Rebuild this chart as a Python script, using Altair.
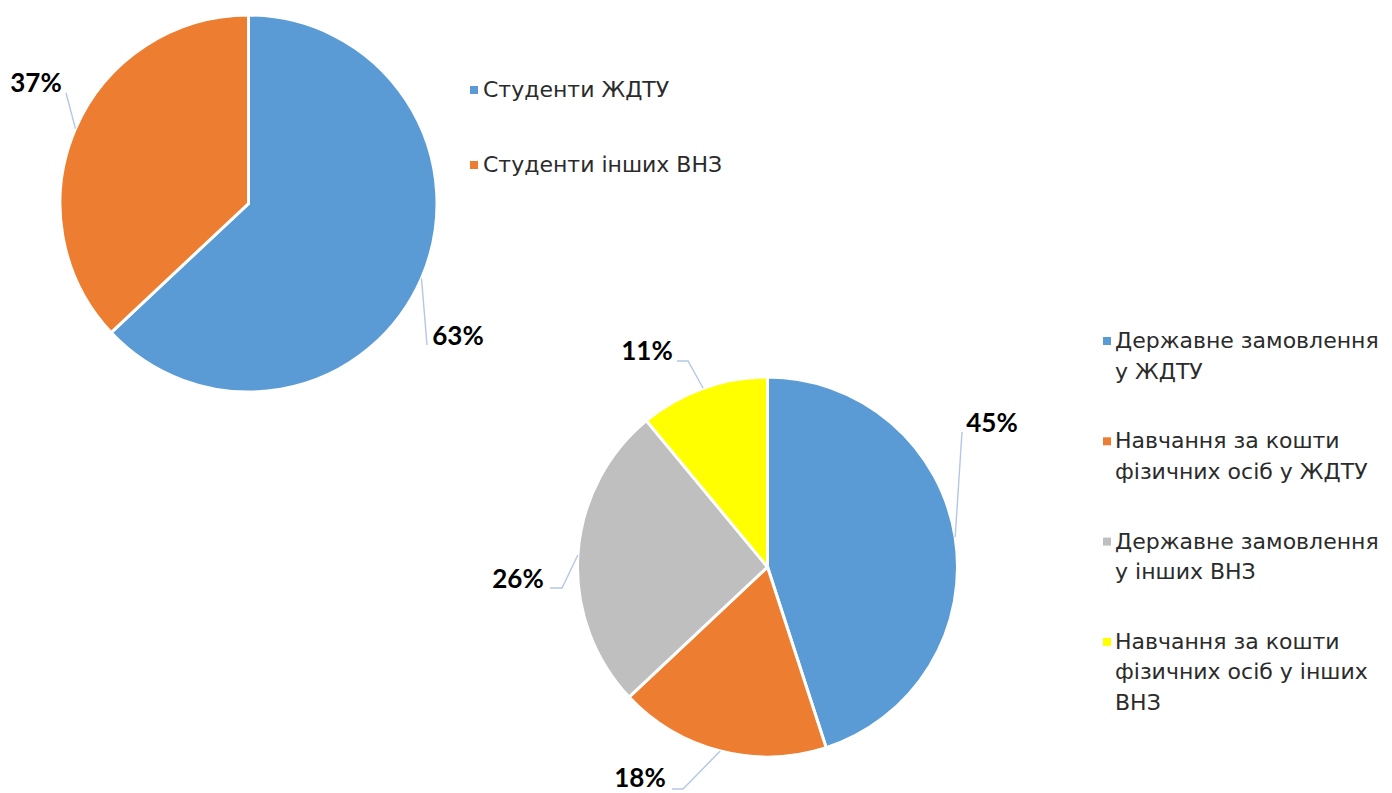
import math
import altair as alt
import pandas as pd

# ---------------- data ----------------
pie1_categories = ["Студенти ЖДТУ", "Студенти інших ВНЗ"]
pie1_values = [63, 37]
pie1_labels = ["63%", "37%"]

pie2_categories = [
    "Державне замовлення у ЖДТУ",
    "Навчання за кошти фізичних осіб у ЖДТУ",
    "Державне замовлення у інших ВНЗ",
    "Навчання за кошти фізичних осіб у інших ВНЗ",
]
pie2_values = [45, 18, 26, 11]
pie2_labels = ["45%", "18%", "26%", "11%"]
pie2_legend_lines = [
    ["Державне замовлення", "у ЖДТУ"],
    ["Навчання за кошти", "фізичних осіб у ЖДТУ"],
    ["Державне замовлення", "у інших ВНЗ"],
    ["Навчання за кошти", "фізичних осіб у інших", "ВНЗ"],
]

# ---------------- styles / layout ----------------
pie1_colors = ["#5B9BD5", "#ED7D31"]
pie2_colors = ["#5B9BD5", "#ED7D31", "#BFBFBF", "#FFFF00"]
W, H = 1376, 785
P1 = dict(cx=240.5, cy=195.5, r=188.5)
P2 = dict(cx=759.5, cy=559.0, r=190.0)
LEADER = "#B4C7E7"
LEGEND_TEXT = "#2B2B2B"

# label anchor and leader-line points (after the edge point), per slice
p1_layout = [
    dict(label=(450, 329), pts=[(419, 337)]),
    dict(label=(28, 76), pts=[(58, 85)]),
]
p2_layout = [
    dict(label=(984, 416), pts=[(954, 424)]),
    dict(label=(632, 771), pts=[(675, 781), (664, 781)]),
    dict(label=(510, 572), pts=[(554, 580), (542, 580)]),
    dict(label=(639, 344), pts=[(680, 353), (669, 353)]),
]

all_cats = pie1_categories + pie2_categories
all_cols = pie1_colors + pie2_colors
color_scale = alt.Scale(domain=all_cats, range=all_cols)
xs = alt.Scale(domain=[0, W], range=[0, W], nice=False, zero=False)
ys = alt.Scale(domain=[0, H], range=[0, H], nice=False, zero=False)


def pie_layer(cats, vals, geo):
    df = pd.DataFrame({"cat": cats, "value": vals, "idx": list(range(len(cats)))})
    return alt.Chart(df).mark_arc(
        radius=geo["r"], stroke="white", strokeWidth=3
    ).encode(
        theta=alt.Theta("value:Q", stack=True),
        color=alt.Color("cat:N", scale=color_scale, legend=None),
        order=alt.Order("idx:Q"),
        x=alt.value(geo["cx"]),
        y=alt.value(geo["cy"]),
    )


def annotations(vals, labels, geo, layout):
    total = float(sum(vals))
    line_rows, text_rows = [], []
    cum = 0.0
    for i, (v, lab, lay) in enumerate(zip(vals, labels, layout)):
        mid = (cum + v / 2.0) / total * 2 * math.pi
        cum += v
        ex = geo["cx"] + geo["r"] * math.sin(mid)
        ey = geo["cy"] - geo["r"] * math.cos(mid)
        pts = [(ex, ey)] + lay["pts"]
        for j, (px, py) in enumerate(pts):
            line_rows.append({"seg": f"{lab}-{i}", "o": j, "x": px, "y": py})
        text_rows.append({"t": lab, "x": lay["label"][0], "y": lay["label"][1]})
    return line_rows, text_rows


l1, t1 = annotations(pie1_values, pie1_labels, P1, p1_layout)
l2, t2 = annotations(pie2_values, pie2_labels, P2, p2_layout)
lines_df = pd.DataFrame(l1 + l2)
texts_df = pd.DataFrame(t1 + t2)

leaders = alt.Chart(lines_df).mark_line(color=LEADER, strokeWidth=1.4).encode(
    x=alt.X("x:Q", scale=xs, axis=None),
    y=alt.Y("y:Q", scale=ys, axis=None),
    detail="seg:N",
    order="o:Q",
)
pct = alt.Chart(texts_df).mark_text(
    font="Lato", fontWeight="bold", fontSize=26, color="black",
    align="center", baseline="middle",
).encode(
    x=alt.X("x:Q", scale=xs, axis=None),
    y=alt.Y("y:Q", scale=ys, axis=None),
    text="t:N",
)

# legends
leg_sq, leg_tx = [], []
for i, c in enumerate(pie1_categories):
    y = 82 + i * 75
    leg_sq.append({"cat": c, "x": 466, "y": y})
    leg_tx.append({"t": c, "x": 475, "y": y})
for i, (c, lines) in enumerate(zip(pie2_categories, pie2_legend_lines)):
    y0 = 333 + i * 100.3
    leg_sq.append({"cat": c, "x": 1099, "y": y0})
    for k, ln in enumerate(lines):
        leg_tx.append({"t": ln, "x": 1107, "y": y0 + k * 30.5})

squares = alt.Chart(pd.DataFrame(leg_sq)).mark_square(size=64, opacity=1).encode(
    x=alt.X("x:Q", scale=xs, axis=None),
    y=alt.Y("y:Q", scale=ys, axis=None),
    color=alt.Color("cat:N", scale=color_scale, legend=None),
)
leg_text = alt.Chart(pd.DataFrame(leg_tx)).mark_text(
    font="DejaVu Sans", fontSize=22, color=LEGEND_TEXT, align="left", baseline="middle",
).encode(
    x=alt.X("x:Q", scale=xs, axis=None),
    y=alt.Y("y:Q", scale=ys, axis=None),
    text="t:N",
)

chart = alt.layer(
    pie_layer(pie1_categories, pie1_values, P1),
    pie_layer(pie2_categories, pie2_values, P2),
    leaders, pct, squares, leg_text,
).resolve_scale(theta="independent").properties(
    width=W, height=H, autosize=alt.AutoSizeParams(type="none"), padding=0,
    background="white",
).configure_view(stroke=None)

chart.save("out.html", embed_options={"renderer": "svg", "actions": False})
